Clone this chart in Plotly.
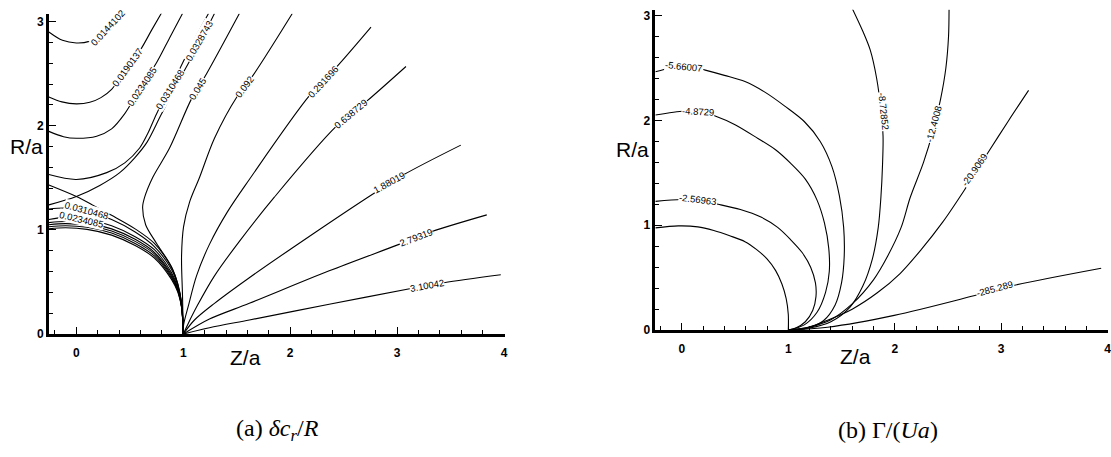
import plotly.graph_objects as go

# ---------------- (a) delta c_r / R : contour lines (Z/a, R/a) ----------------
a_0144_z = [-0.257, -0.13, 0.0, 0.12, 0.20, 0.28, 0.36, 0.43]
a_0144_r = [2.90, 2.82, 2.795, 2.81, 2.86, 2.94, 3.01, 3.08]

a_0190_z = [-0.257, -0.135, 0.0, 0.126, 0.23, 0.33, 0.481, 0.611, 0.704, 0.798]
a_0190_r = [2.276, 2.229, 2.210, 2.225, 2.27, 2.35, 2.559, 2.748, 2.918, 3.085]

a_0234u_z = [-0.257, -0.12, 0.0, 0.19, 0.33, 0.453, 0.592, 0.751, 0.872, 0.993]
a_0234u_r = [1.946, 1.895, 1.880, 1.90, 1.97, 2.116, 2.352, 2.607, 2.843, 3.078]

a_0310u_z = [-0.257, 0.0, 0.284, 0.453, 0.592, 0.67, 0.751, 0.919, 1.077, 1.236]
a_0310u_r = [1.531, 1.484, 1.550, 1.644, 1.786, 1.93, 2.116, 2.446, 2.776, 3.078]

a_0329u_z = [-0.257, 0.0, 0.219, 0.406, 0.546, 0.66, 0.79, 0.966, 1.152, 1.292]
a_0329u_r = [1.24, 1.32, 1.427, 1.550, 1.692, 1.84, 2.10, 2.446, 2.795, 3.078]

a_0329l_z = [-0.257, 0.0, 0.15, 0.33, 0.55, 0.73, 0.89, 0.95, 0.985, 1.0]
a_0329l_r = [1.43, 1.32, 1.24, 1.14, 1.01, 0.87, 0.64, 0.48, 0.29, 0.0]

a_low_z = [-0.257, -0.1, 0.1, 0.33, 0.55, 0.73, 0.89, 0.95, 0.985, 1.0]
a_0310l_r = [1.20, 1.21, 1.18, 1.10, 0.98, 0.84, 0.62, 0.46, 0.28, 0.0]
a_0234l_r = [1.10, 1.12, 1.10, 1.04, 0.935, 0.81, 0.59, 0.44, 0.27, 0.0]
a_in4_r = [1.07, 1.08, 1.065, 1.01, 0.91, 0.785, 0.57, 0.43, 0.265, 0.0]
a_in3_r = [1.05, 1.06, 1.045, 0.99, 0.89, 0.77, 0.555, 0.42, 0.26, 0.0]
a_in2_r = [1.03, 1.04, 1.025, 0.97, 0.87, 0.75, 0.54, 0.41, 0.255, 0.0]
a_in1_r = [1.01, 1.02, 1.005, 0.95, 0.85, 0.73, 0.525, 0.40, 0.25, 0.0]

a_045_z = [1.525, 1.199, 1.077, 0.872, 0.714, 0.639, 0.620, 0.648, 0.751, 0.900, 0.984, 1.0]
a_045_r = [3.078, 2.465, 2.258, 1.786, 1.503, 1.314, 1.220, 1.050, 0.869, 0.625, 0.305, 0.0]

a_092_z = [2.020, 1.646, 1.507, 1.292, 1.152, 1.059, 1.003, 0.984, 0.993, 1.0]
a_092_r = [3.078, 2.474, 2.286, 1.880, 1.503, 1.267, 1.031, 0.748, 0.371, 0.0]

a_2917_z = [2.756, 2.439, 2.178, 1.618, 1.413, 1.245, 1.124, 1.049, 1.003, 1.0]
a_2917_r = [2.946, 2.569, 2.286, 1.484, 1.173, 0.861, 0.559, 0.276, 0.088, 0.0]

a_6387_z = [3.083, 2.719, 2.430, 1.852, 1.525, 1.292, 1.133, 1.040, 1.0]
a_6387_r = [2.569, 2.238, 1.993, 1.314, 0.890, 0.559, 0.276, 0.088, 0.0]

a_1880_z = [3.596, 3.064, 2.785, 2.178, 1.618, 1.292, 1.105, 1.0]
a_1880_r = [1.814, 1.531, 1.352, 0.937, 0.541, 0.295, 0.135, 0.0]

a_2793_z = [3.839, 3.326, 3.018, 2.365, 1.618, 1.245, 1.0]
a_2793_r = [1.144, 0.984, 0.861, 0.607, 0.295, 0.144, 0.0]

a_3100_z = [3.970, 3.438, 3.130, 2.365, 1.618, 1.245, 1.0]
a_3100_r = [0.569, 0.493, 0.437, 0.286, 0.135, 0.060, 0.0]

# ---------------- (b) Gamma/(Ua) : contour lines ----------------
b_c1_z = [-0.248, -0.033, 0.15, 0.30, 0.45, 0.593, 0.70, 0.80, 0.88, 0.94, 0.98, 1.0, 1.0]
b_c1_r = [0.975, 0.994, 0.985, 0.95, 0.90, 0.844, 0.77, 0.68, 0.57, 0.44, 0.30, 0.15, 0.0]

b_2570_z = [-0.248, -0.005, 0.154, 0.341, 0.55, 0.743, 0.90, 1.023, 1.13, 1.21, 1.255, 1.26, 1.23, 1.16, 1.07, 1.0]
b_2570_r = [1.228, 1.246, 1.237, 1.200, 1.15, 1.078, 0.98, 0.862, 0.74, 0.60, 0.45, 0.32, 0.19, 0.08, 0.02, 0.0]

b_4873_z = [-0.248, 0.023, 0.154, 0.313, 0.5, 0.715, 0.88, 1.023, 1.16, 1.27, 1.34, 1.38, 1.385, 1.35, 1.27, 1.15, 1.0]
b_4873_r = [2.052, 2.090, 2.090, 2.043, 1.96, 1.828, 1.72, 1.59, 1.44, 1.24, 1.02, 0.78, 0.56, 0.36, 0.17, 0.05, 0.0]

b_5660_z = [-0.248, -0.1, 0.06, 0.22, 0.40, 0.593, 0.78, 0.967, 1.15, 1.30, 1.41, 1.48, 1.52, 1.525, 1.50, 1.44, 1.33, 1.18, 1.0]
b_5660_r = [2.465, 2.50, 2.52, 2.48, 2.43, 2.371, 2.27, 2.137, 1.99, 1.80, 1.56, 1.28, 0.98, 0.70, 0.45, 0.24, 0.09, 0.02, 0.0]

b_8729_z = [1.602, 1.70, 1.77, 1.83, 1.87, 1.89, 1.885, 1.87, 1.845, 1.79, 1.70, 1.58, 1.40, 1.2, 1.0]
b_8729_r = [3.065, 2.85, 2.67, 2.40, 2.10, 1.85, 1.575, 1.27, 0.98, 0.68, 0.42, 0.22, 0.08, 0.02, 0.0]

b_1240_z = [2.51, 2.505, 2.48, 2.43, 2.36, 2.27, 2.145, 2.06, 1.93, 1.80, 1.60, 1.40, 1.2, 1.0]
b_1240_r = [3.06, 2.80, 2.50, 2.20, 1.90, 1.60, 1.265, 0.98, 0.70, 0.48, 0.25, 0.10, 0.03, 0.0]

b_2091_z = [3.257, 3.07, 2.893, 2.65, 2.45, 2.25, 2.05, 1.836, 1.6, 1.369, 1.18, 1.0]
b_2091_r = [2.287, 2.0, 1.72, 1.33, 1.03, 0.77, 0.54, 0.356, 0.2, 0.095, 0.025, 0.0]

b_2853_z = [3.939, 3.098, 2.743, 1.995, 1.369, 1.0]
b_2853_r = [0.590, 0.422, 0.328, 0.141, 0.028, 0.0]

A_LINES = [
    (a_0144_z, a_0144_r), (a_0190_z, a_0190_r), (a_0234u_z, a_0234u_r),
    (a_0310u_z, a_0310u_r), (a_0329u_z, a_0329u_r), (a_0329l_z, a_0329l_r),
    (a_low_z, a_0310l_r), (a_low_z, a_0234l_r), (a_low_z, a_in4_r),
    (a_low_z, a_in3_r), (a_low_z, a_in2_r), (a_low_z, a_in1_r),
    (a_045_z, a_045_r), (a_092_z, a_092_r), (a_2917_z, a_2917_r),
    (a_6387_z, a_6387_r), (a_1880_z, a_1880_r), (a_2793_z, a_2793_r),
    (a_3100_z, a_3100_r),
]
B_LINES = [
    (b_c1_z, b_c1_r), (b_2570_z, b_2570_r), (b_4873_z, b_4873_r),
    (b_5660_z, b_5660_r), (b_8729_z, b_8729_r), (b_1240_z, b_1240_r),
    (b_2091_z, b_2091_r), (b_2853_z, b_2853_r),
]

# contour labels: text, Z, R, angle (deg, clockwise)
A_LABELS = [
    ("0.0144102", 0.294, 2.946, -47), ("0.0190137", 0.476, 2.559, -54),
    ("0.0234085", 0.611, 2.380, -56), ("0.0310468", 0.872, 2.352, -58),
    ("0.0328743", 1.152, 2.814, -60), ("0.045", 1.133, 2.361, -59),
    ("0.092", 1.572, 2.380, -53), ("0.291696", 2.309, 2.427, -47),
    ("0.638729", 2.570, 2.116, -40), ("1.88019", 2.924, 1.456, -29),
    ("2.79319", 3.176, 0.927, -21), ("3.10042", 3.279, 0.465, -10),
    ("0.0310468", 0.098, 1.182, 15), ("0.0234085", 0.051, 1.100, 13),
]
B_LABELS = [
    ("-5.66007", 0.023, 2.512, 6), ("-4.8729", 0.154, 2.090, 3),
    ("-2.56963", 0.154, 1.246, 7), ("-8.72852", 1.893, 2.081, 84),
    ("-12.4008", 2.369, 1.968, -75), ("-20.9069", 2.752, 1.528, -55),
    ("-285.289", 2.939, 0.394, -15),
]

X_TICKS = [0, 1, 2, 3, 4]
Y_TICKS = [0, 1, 2, 3]

fig = go.Figure()
line_style = dict(color="black", width=1.1, shape="spline", smoothing=0.9)
for z, r in A_LINES:
    fig.add_trace(go.Scatter(x=z, y=r, mode="lines", line=line_style,
                             showlegend=False, hoverinfo="skip", xaxis="x", yaxis="y"))
for z, r in B_LINES:
    fig.add_trace(go.Scatter(x=z, y=r, mode="lines", line=line_style,
                             showlegend=False, hoverinfo="skip", xaxis="x2", yaxis="y2"))

label_font = dict(family="Liberation Sans", size=9.5, color="black")
annotations = []
for txt, z, r, ang in A_LABELS:
    annotations.append(dict(x=z, y=r, xref="x", yref="y", text=txt, textangle=ang,
                            xanchor="center", yanchor="middle",
                            showarrow=False, bgcolor="white", borderpad=0, font=label_font))
for txt, z, r, ang in B_LABELS:
    annotations.append(dict(x=z, y=r, xref="x2", yref="y2", text=txt, textangle=ang,
                            xanchor="center", yanchor="middle",
                            showarrow=False, bgcolor="white", borderpad=0, font=label_font))

W, H = 1111, 457
def px(x):
    return x / W
def py(y):
    return 1 - y / H

title_font = dict(family="Liberation Sans", size=21, color="black")
for txt, x, y in [("R/a", 27, 148), ("Z/a", 246, 363), ("R/a", 634, 151), ("Z/a", 858, 362)]:
    annotations.append(dict(x=px(x), y=py(y), xref="paper", yref="paper", text=txt,
                            xanchor="center", yanchor="middle",
                            showarrow=False, font=title_font))
cap_font = dict(family="Liberation Serif", size=24, color="black")
annotations.append(dict(x=px(278), y=py(437), xref="paper", yref="paper",
                        xanchor="center", yanchor="middle",
                        text="(a) <i>δc</i><sub><i>r</i></sub>/<i>R</i>", showarrow=False, font=cap_font))
annotations.append(dict(x=px(890), y=py(437), xref="paper", yref="paper",
                        xanchor="center", yanchor="middle",
                        text="(b) Γ/(<i>Ua</i>)", showarrow=False, font=cap_font))

tick_font = dict(family="Liberation Sans", size=12, color="black", weight="bold")
def xaxis(dom, rng, anchor):
    return dict(domain=dom, range=rng, anchor=anchor, showgrid=False, zeroline=False,
                showline=True, linecolor="black", linewidth=2.5,
                ticks="inside", ticklen=7, tickwidth=1.3, tickcolor="black",
                tickvals=X_TICKS, ticktext=[str(v) for v in X_TICKS], tickfont=tick_font,
                ticklabelstandoff=6, ticklabeloverflow="allow",
                minor=dict(ticks="inside", ticklen=4, tickwidth=1, tickcolor="black", dtick=0.2, tick0=0),
                fixedrange=True)
def yaxis(dom, rng, anchor):
    return dict(domain=dom, range=rng, anchor=anchor, showgrid=False, zeroline=False,
                showline=True, linecolor="black", linewidth=2.5,
                ticks="inside", ticklen=7, tickwidth=1.3, tickcolor="black",
                tickvals=Y_TICKS, ticktext=[str(v) for v in Y_TICKS], tickfont=tick_font,
                minor=dict(ticks="inside", ticklen=4, tickwidth=1, tickcolor="black", dtick=0.2, tick0=0),
                fixedrange=True)

fig.update_layout(
    width=W, height=H, autosize=False,
    margin=dict(l=0, r=0, t=0, b=0),
    paper_bgcolor="white", plot_bgcolor="white",
    xaxis=xaxis([px(49), px(506)], [-0.257, 4.006], "y"),
    yaxis=yaxis([py(339), py(13)], [0, 3.075], "x"),
    xaxis2=xaxis([px(657), 1.0], [-0.25, 4.003], "y2"),
    yaxis2=yaxis([py(335), py(9)], [0, 3.055], "x2"),
    annotations=annotations,
    showlegend=False,
)

fig.write_html("out.html")
